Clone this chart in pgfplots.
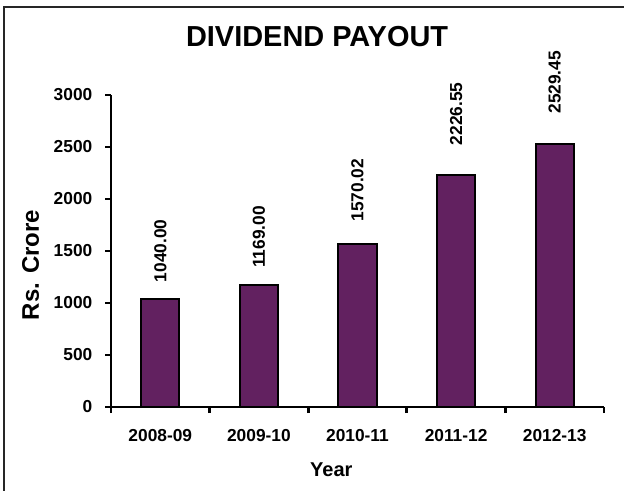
\documentclass[border=0pt]{standalone}
\usepackage{fontspec}
\setmainfont{Liberation Sans}
\usepackage{pgfplots}
\usepackage{pgfplotstable}
\pgfplotsset{compat=1.18}
\definecolor{barpurple}{RGB}{98,33,96}
\pgfplotstableread{
x y label off
0 1040.00 1040.00 11.7
1 1169.00 1169.00 12.4
2 1570.02 1570.02 16
3 2226.55 2226.55 22
4 2529.45 2529.45 22
}\payout
\begin{document}
\begin{tikzpicture}[x=1pt,y=1pt]
\useasboundingbox (0,0) rectangle (468,367.5);
\draw[line width=1.5pt, black!85] (3,-5) -- (3,362.25) -- (475,362.25);
\begin{axis}[
  at={(83.25pt,62.25pt)}, anchor=south west,
  scale only axis, width=369.75pt, height=234pt,
  xmin=-0.5, xmax=4.5, ymin=0, ymax=3000,
  axis x line=bottom, axis y line=left,
  axis line style={-, line width=2pt, black},
  tick align=outside, major tick length=4.5pt,
  tick style={line width=2pt, black},
  xtick={-0.5,0.5,1.5,2.5,3.5,4.5}, xticklabels={},
  extra x ticks={0,1,2,3,4},
  extra x tick labels={2008-09,2009-10,2010-11,2011-12,2012-13},
  extra x tick style={major tick length=0pt, tick style={draw=none}},
  ytick={0,500,1000,1500,2000,2500,3000},
  scaled y ticks=false,
  /pgf/number format/1000 sep={},
  /pgf/number format/assume math mode=true,
  ticklabel style={font=\bfseries\fontsize{13}{13}\selectfont},
  yticklabel style={xshift=-6pt},
  xticklabel style={yshift=-13pt},
  title={DIVIDEND PAYOUT},
  title style={font=\bfseries\fontsize{21.7}{21.7}\selectfont, at={(rel axis cs:0.418,1.163)}, anchor=center},
  ylabel={Rs. Crore},
  ylabel style={font=\bfseries\fontsize{18}{18}\selectfont, at={(rel axis cs:-0.163,0.455)}, anchor=center, rotate=0},
  xlabel={Year},
  xlabel style={font=\bfseries\fontsize{15}{15}\selectfont, at={(rel axis cs:0.447,-0.2)}, anchor=center},
  clip=false,
]
\addplot[ybar, bar width=28.5pt, fill=barpurple, draw=black, line width=1.5pt,
  nodes near coords, point meta=explicit symbolic,
  visualization depends on={\thisrow{off} \as \labeloff},
  every node near coord/.style={rotate=90, anchor=west, inner xsep=\labeloff pt, font=\bfseries\fontsize{13}{13}\selectfont, black}]
  table[x=x, y=y, meta=label] {\payout};
\end{axis}
\end{tikzpicture}
\end{document}
